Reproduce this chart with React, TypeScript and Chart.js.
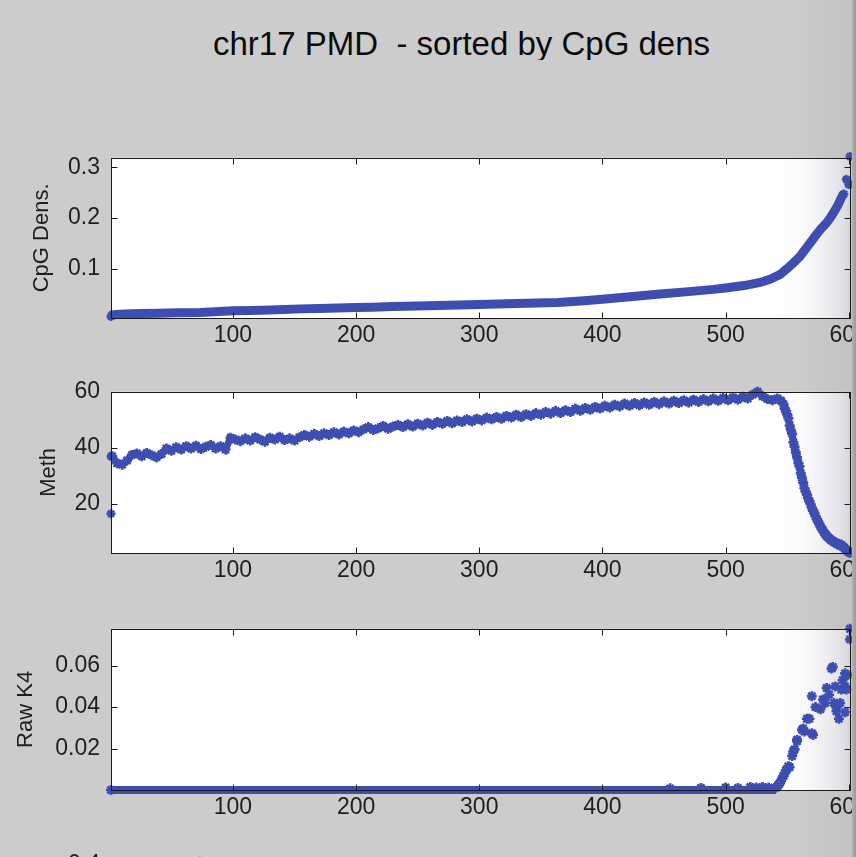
import React, { useEffect, useRef } from 'react';
import { Chart, registerables } from 'chart.js';

Chart.register(...registerables);

// ---------------- data ----------------
const TITLE = 'chr17 PMD  - sorted by CpG dens';
const X_MIN = 1;
const X_MAX = 601;
const xTickValues = [100, 200, 300, 400, 500, 600];

// Panel 1 : CpG density (sorted)
const cpgBandX = [1, 2, 5, 12, 25, 40, 55, 73, 85, 100, 115, 130, 155, 170, 185, 200, 213, 230, 250, 275, 300, 330, 364, 385, 400, 420, 447, 470, 490, 500, 515, 528, 536, 544, 550, 555, 560, 566, 570, 574, 578, 582, 585, 588, 591, 593, 595];
const cpgBandY = [0.0056, 0.0085, 0.0095, 0.0105, 0.0112, 0.012, 0.0128, 0.0135, 0.015, 0.0168, 0.0175, 0.0185, 0.0205, 0.0212, 0.0222, 0.0232, 0.0238, 0.025, 0.0262, 0.0278, 0.0292, 0.031, 0.0333, 0.0365, 0.0395, 0.044, 0.05, 0.0545, 0.059, 0.0618, 0.0665, 0.0726, 0.079, 0.088, 0.1, 0.111, 0.123, 0.142, 0.155, 0.168, 0.18, 0.19, 0.2, 0.212, 0.224, 0.2345, 0.245];
const cpgTailX = [1, 595, 596, 598, 600, 601];
const cpgTailY = [0.0056, 0.245, 0.247, 0.276, 0.266, 0.321];
const cpgTicks = [0.1, 0.2, 0.3];
const cpgTickLabels = ['0.1', '0.2', '0.3'];

// Panel 2 : Methylation
const methX = [2, 6, 10, 14, 18, 22, 26, 30, 34, 38, 42, 46, 50, 54, 58, 62, 66, 70, 74, 78, 82, 86, 90, 94, 98, 102, 106, 110, 114, 118, 122, 126, 130, 134, 138, 142, 146, 150, 154, 158, 162, 166, 170, 174, 178, 182, 186, 190, 194, 198, 202, 206, 210, 214, 218, 222, 226, 230, 234, 238, 242, 246, 250, 254, 258, 262, 266, 270, 274, 278, 282, 286, 290, 294, 298, 302, 306, 310, 314, 318, 322, 326, 330, 334, 338, 342, 346, 350, 354, 358, 362, 366, 370, 374, 378, 382, 386, 390, 394, 398, 402, 406, 410, 414, 418, 422, 426, 430, 434, 438, 442, 446, 450, 454, 458, 462, 466, 470, 474, 478, 482, 486, 490, 494, 498, 502, 506, 510, 514, 518, 522, 526, 530, 534, 538, 542, 545, 547, 548, 549, 550, 551, 552, 553, 554, 555, 556, 557, 558, 559, 560, 561, 562, 563, 564, 565, 566, 567, 568, 569, 570, 571, 572, 573, 574, 575, 576, 577, 578, 579, 580, 581, 582, 583, 584, 585, 586, 587, 588, 589, 590, 591, 592, 593, 594, 595, 596, 597, 598, 599, 600, 601];
const methY = [37.0, 34.5, 34.0, 35.5, 37.5, 38.0, 37.0, 38.2, 37.4, 36.6, 37.8, 39.8, 39.0, 40.2, 39.4, 40.6, 39.8, 40.8, 39.6, 40.4, 41.0, 39.8, 40.6, 39.4, 43.6, 43.0, 42.4, 43.4, 42.6, 43.8, 43.0, 42.2, 43.6, 43.0, 44.0, 42.8, 43.4, 42.6, 43.8, 44.6, 44.0, 45.0, 44.2, 45.2, 44.6, 45.6, 44.8, 45.8, 45.2, 46.2, 45.6, 46.6, 47.4, 46.4, 47.0, 47.8, 46.8, 47.6, 48.2, 47.4, 48.4, 47.6, 48.6, 48.0, 49.0, 48.2, 49.2, 48.6, 49.6, 48.8, 49.8, 49.2, 50.2, 49.4, 50.4, 49.8, 50.8, 50.2, 51.0, 50.4, 51.4, 50.8, 51.8, 51.0, 52.0, 51.4, 52.4, 51.8, 52.8, 52.2, 53.2, 52.4, 53.4, 52.8, 54.0, 53.2, 54.2, 53.6, 54.6, 54.0, 55.0, 54.4, 55.4, 54.8, 55.8, 55.0, 56.0, 55.2, 56.2, 55.4, 56.4, 55.6, 56.6, 55.8, 56.8, 56.0, 57.0, 56.2, 57.2, 56.4, 57.4, 56.6, 57.6, 56.8, 57.8, 57.0, 58.0, 57.2, 58.2, 57.6, 59.0, 60.0, 58.4, 57.4, 57.0, 57.6, 56.8, 55.6, 54.0, 53.0, 52.0, 50.6, 48.0, 46.4, 45.0, 42.0, 40.4, 38.4, 36.6, 34.6, 33.4, 31.0, 29.4, 27.6, 25.6, 24.4, 23.4, 22.0, 21.0, 20.0, 18.6, 17.6, 16.8, 15.6, 14.6, 13.8, 13.0, 12.0, 11.2, 10.6, 9.8, 9.2, 8.6, 8.2, 7.8, 7.4, 7.0, 6.8, 6.4, 6.2, 6.0, 5.6, 5.8, 5.2, 5.4, 4.8, 4.6, 4.0, 3.6, 3.2, 2.8, 2.6];
const methOutlierX = [1, 1];
const methOutlierY = [16.5, 37.0];
const methTicks = [20, 40, 60];
const methTickLabels = ['20', '40', '60'];

// Panel 3 : Raw K4
const k4BaseX = [1, 100, 200, 300, 400, 500, 541];
const k4BaseY = [0, 0, 0, 0, 0, 0, 0];
const k4X = [1, 455, 480, 500, 510, 520, 525, 530, 535, 541, 542, 543, 544, 545, 546, 547, 548, 549, 550, 551, 552, 554, 555, 556, 558, 558, 562, 563, 564, 566, 568, 570, 570, 571, 573, 577, 579, 581, 582, 584, 586, 587, 588, 589, 590, 590, 592, 593, 594, 595, 597, 597, 597, 598, 599, 601, 601];
const k4Y = [0, 0.0008, 0.001, 0.0012, 0.001, 0.0015, 0.0012, 0.0015, 0.0012, 0.0012, 0.0018, 0.0025, 0.0033, 0.0045, 0.0055, 0.0068, 0.008, 0.0095, 0.0102, 0.0115, 0.011, 0.0164, 0.0188, 0.0196, 0.0235, 0.0243, 0.029, 0.0297, 0.0282, 0.0344, 0.0344, 0.0274, 0.0453, 0.0266, 0.04, 0.039, 0.0437, 0.042, 0.0492, 0.046, 0.0586, 0.0594, 0.042, 0.05, 0.038, 0.0399, 0.0344, 0.042, 0.0485, 0.053, 0.0563, 0.05, 0.0375, 0.0485, 0.0555, 0.0778, 0.0727];
const k4Ticks = [0.02, 0.04, 0.06];
const k4TickLabels = ['0.02', '0.04', '0.06'];

// Panel 4 (cut off at the bottom)
const p4X = [73];
const p4Y = [0.41];
const p4Ticks = [0.4];
const p4TickLabels = ['0.4'];

// ---------------- styles ----------------
const BLUE = '#3d4eb0';
const FONT = "'Liberation Sans', Arial, Helvetica, sans-serif";
const TEXT = '#1e1e1e';
const TICK_FONT_SIZE = 23;

const pts = (xs: number[], ys: number[]) => xs.map((x, i) => ({ x, y: ys[i] }));

const lineDs = (xs: number[], ys: number[], w: number) => ({
  data: pts(xs, ys),
  showLine: true,
  borderColor: BLUE,
  backgroundColor: BLUE,
  borderWidth: w,
  pointRadius: 0,
  clip: false as any,
});
const starDs = (xs: number[], ys: number[], r = 4, bw = 2.2) => ({
  data: pts(xs, ys),
  showLine: false,
  pointStyle: 'star',
  pointRadius: r,
  borderWidth: bw,
  borderColor: BLUE,
  backgroundColor: BLUE,
  clip: false as any,
});

const framePlugin = {
  id: 'frame',
  beforeDraw(chart: any) {
    const { ctx, chartArea: a } = chart;
    const g = ctx.createLinearGradient(a.left, 0, a.right, 0);
    const at = (px: number) => Math.max(0, Math.min(1, (px - a.left) / (a.right - a.left)));
    g.addColorStop(0, '#ffffff');
    g.addColorStop(at(770), '#ffffff');
    g.addColorStop(at(800), '#fbfbfc');
    g.addColorStop(at(825), '#efeff2');
    g.addColorStop(at(840), '#e3e3e7');
    g.addColorStop(1, '#d6d6da');
    ctx.save();
    ctx.fillStyle = g;
    ctx.fillRect(a.left, a.top, a.right - a.left, a.bottom - a.top);
    ctx.restore();
  },
  afterDatasetsDraw(chart: any) {
    const { ctx, chartArea: a, scales } = chart;
    const L = Math.round(a.left) + 0.5;
    const R = Math.round(a.right) + 0.5;
    const T = Math.round(a.top) + 0.5;
    const B = Math.round(a.bottom) + 0.5;
    ctx.save();
    ctx.strokeStyle = '#1a1a1a';
    ctx.lineWidth = 1;
    ctx.strokeRect(L, T, R - L, B - T);
    ctx.beginPath();
    for (const t of scales.x.ticks) {
      const px = Math.round(scales.x.getPixelForValue(t.value)) + 0.5;
      ctx.moveTo(px, B); ctx.lineTo(px, B - 6);
      ctx.moveTo(px, T); ctx.lineTo(px, T + 6);
    }
    for (const t of scales.y.ticks) {
      const py = Math.round(scales.y.getPixelForValue(t.value)) + 0.5;
      ctx.moveTo(L, py); ctx.lineTo(L + 6, py);
      ctx.moveTo(R, py); ctx.lineTo(R - 6, py);
    }
    ctx.stroke();
    ctx.restore();
  },
};

type PanelProps = {
  top: number;
  height: number;
  datasets: any[];
  yMin: number;
  yMax: number;
  yTicks: number[];
  yTickLabels: string[];
  yLabel: string;
  yLabelPad: number;
};

function Panel(p: PanelProps) {
  const ref = useRef<HTMLCanvasElement>(null);
  useEffect(() => {
    const chart = new Chart(ref.current as HTMLCanvasElement, {
      type: 'scatter',
      data: { datasets: p.datasets },
      options: {
        responsive: false,
        animation: false,
        events: [],
        layout: { padding: { top: 20, right: 50, left: 0, bottom: 0 } },
        plugins: { legend: { display: false }, tooltip: { enabled: false } },
        scales: {
          x: {
            type: 'linear',
            min: X_MIN,
            max: X_MAX,
            afterBuildTicks: (s: any) => { s.ticks = xTickValues.map((v) => ({ value: v })); },
            afterFit: (s: any) => { s.height = 50; },
            grid: { display: false, drawTicks: false },
            border: { display: false },
            ticks: {
              autoSkip: false,
              maxRotation: 0,
              padding: 4,
              color: TEXT,
              font: { family: FONT, size: TICK_FONT_SIZE },
              callback: (v: any) => String(v),
            },
          },
          y: {
            type: 'linear',
            min: p.yMin,
            max: p.yMax,
            afterBuildTicks: (s: any) => { s.ticks = p.yTicks.map((v) => ({ value: v })); },
            afterFit: (s: any) => { s.width = 111; },
            grid: { display: false, drawTicks: false },
            border: { display: false },
            ticks: {
              autoSkip: false,
              padding: 11,
              color: TEXT,
              font: { family: FONT, size: TICK_FONT_SIZE },
              callback: (v: any) => {
                const i = p.yTicks.indexOf(v);
                return i >= 0 ? p.yTickLabels[i] : '';
              },
            },
            title: {
              display: true,
              text: p.yLabel,
              color: TEXT,
              font: { family: FONT, size: 22 },
              padding: { top: p.yLabelPad, bottom: 0 },
            },
          },
        },
      } as any,
      plugins: [framePlugin],
    });
    return () => chart.destroy();
  }, []);
  return (
    <canvas
      ref={ref}
      width={900}
      height={p.height}
      style={{ position: 'absolute', left: 0, top: p.top, width: 900, height: p.height }}
    />
  );
}

export default function App() {
  return (
    <div
      style={{
        position: 'absolute',
        left: 0,
        top: 0,
        width: 856,
        height: 857,
        overflow: 'hidden',
        background: 'linear-gradient(to right, #cccccc 0px, #cccccc 790px, #c3c3c3 852px)',
      }}
    >
      <div
        style={{
          position: 'absolute',
          left: 213,
          top: 27,
          width: 499,
          overflow: 'hidden',
          whiteSpace: 'pre',
          fontFamily: FONT,
          fontSize: 33,
          lineHeight: '33px',
          color: '#0a0a0a',
        }}
      >
        {TITLE}
      </div>
      <Panel
        top={133}
        height={235}
        datasets={[lineDs(cpgBandX, cpgBandY, 9), starDs(cpgTailX, cpgTailY, 4.5, 2.5)]}
        yMin={0.0025}
        yMax={0.3185}
        yTicks={cpgTicks}
        yTickLabels={cpgTickLabels}
        yLabel="CpG Dens."
        yLabelPad={29}
      />
      <Panel
        top={367}
        height={236}
        datasets={[lineDs(methX, methY, 7), starDs(methX, methY, 5, 2.6), starDs(methOutlierX, methOutlierY, 4.5, 2.5)]}
        yMin={2.5}
        yMax={60}
        yTicks={methTicks}
        yTickLabels={methTickLabels}
        yLabel="Meth"
        yLabelPad={36}
      />
      <Panel
        top={604}
        height={236}
        datasets={[lineDs(k4BaseX, k4BaseY, 8), starDs(k4X, k4Y, 5, 2.6)]}
        yMin={0}
        yMax={0.0778}
        yTicks={k4Ticks}
        yTickLabels={k4TickLabels}
        yLabel="Raw K4"
        yLabelPad={13}
      />
      <Panel
        top={840}
        height={236}
        datasets={[starDs(p4X, p4Y, 4, 2)]}
        yMin={0}
        yMax={0.4}
        yTicks={p4Ticks}
        yTickLabels={p4TickLabels}
        yLabel=""
        yLabelPad={13}
      />
      <div
        style={{
          position: 'absolute',
          left: 852,
          top: 0,
          width: 4,
          height: 857,
          background: 'linear-gradient(to right, #b2b2b2, #9a9a9a)',
          zIndex: 2,
        }}
      />
    </div>
  );
}
